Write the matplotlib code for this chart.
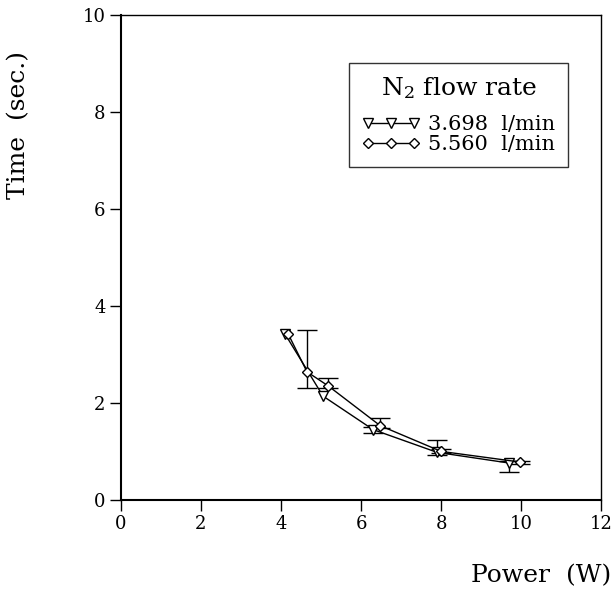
import matplotlib
matplotlib.use("Agg")
import matplotlib.pyplot as plt
from matplotlib.lines import Line2D

# Drying time vs. power for two nitrogen flow rates
power_low = [4.1, 5.05, 6.3, 7.9, 9.7]
time_low = [3.42, 2.14, 1.45, 0.98, 0.76]
err_low_minus = [0.0, 0.0, 0.07, 0.05, 0.18]
err_low_plus = [0.0, 0.0, 0.05, 0.26, 0.05]

power_high = [4.18, 4.65, 5.18, 6.48, 8.0, 9.98]
time_high = [3.42, 2.64, 2.35, 1.53, 1.00, 0.78]
err_high_minus = [0.0, 0.33, 0.05, 0.05, 0.03, 0.03]
err_high_plus = [0.0, 0.87, 0.17, 0.15, 0.04, 0.03]

labels = ["3.698  l/min", "5.560  l/min"]
legend_title = "N$_2$ flow rate"

plt.rcParams['font.family'] = ['DejaVu Serif']
plt.rcParams['mathtext.fontset'] = 'dejavuserif'

fig = plt.figure(figsize=(6.14, 5.93), dpi=100)
ax = fig.add_axes([0.197, 0.157, 0.782, 0.818])

style_low = dict(color='black', lw=1.0, marker='v', ms=6.5, mfc='white',
                 mec='black', mew=1.0)
style_high = dict(color='black', lw=1.0, marker='D', ms=5.5, mfc='white',
                  mec='black', mew=1.0)


def has_error(lo, hi):
    return [(a + b) > 0 for a, b in zip(lo, hi)]


ax.errorbar(power_low, time_low, yerr=[err_low_minus, err_low_plus],
            errorevery=has_error(err_low_minus, err_low_plus),
            capsize=7, elinewidth=1.0, capthick=1.0, **style_low)
ax.errorbar(power_high, time_high, yerr=[err_high_minus, err_high_plus],
            errorevery=has_error(err_high_minus, err_high_plus),
            capsize=7, elinewidth=1.0, capthick=1.0, **style_high)

ax.set_xlim(0, 12)
ax.set_ylim(0, 10)
ax.set_xticks(range(0, 13, 2))
ax.set_yticks(range(0, 11, 2))
ax.tick_params(direction='out', length=8, width=1.0, labelsize=13, pad=3)
for s in ['left', 'bottom']:
    ax.spines[s].set_linewidth(1.5)
for s in ['top', 'right']:
    ax.spines[s].set_linewidth(1.0)

fig.text(0.03, 0.79, "Time  (sec.)", rotation=90, ha='center', va='center',
         fontsize=18)
fig.text(0.995, 0.03, "Power  (W)", ha='right', va='center', fontsize=18)

handles = [Line2D([], [], **style_low), Line2D([], [], **style_high)]
leg = ax.legend(handles, labels, loc='upper right',
                bbox_to_anchor=(0.931, 0.901), borderaxespad=0,
                numpoints=3, title=legend_title, fontsize=15,
                title_fontsize=18, frameon=True, fancybox=False,
                edgecolor='black', handlelength=2.8, handletextpad=0.4,
                borderpad=0.6, labelspacing=0.05)
leg.get_frame().set_linewidth(1.0)
leg._legend_box.sep = 10

fig.savefig("out.png", dpi=100)
